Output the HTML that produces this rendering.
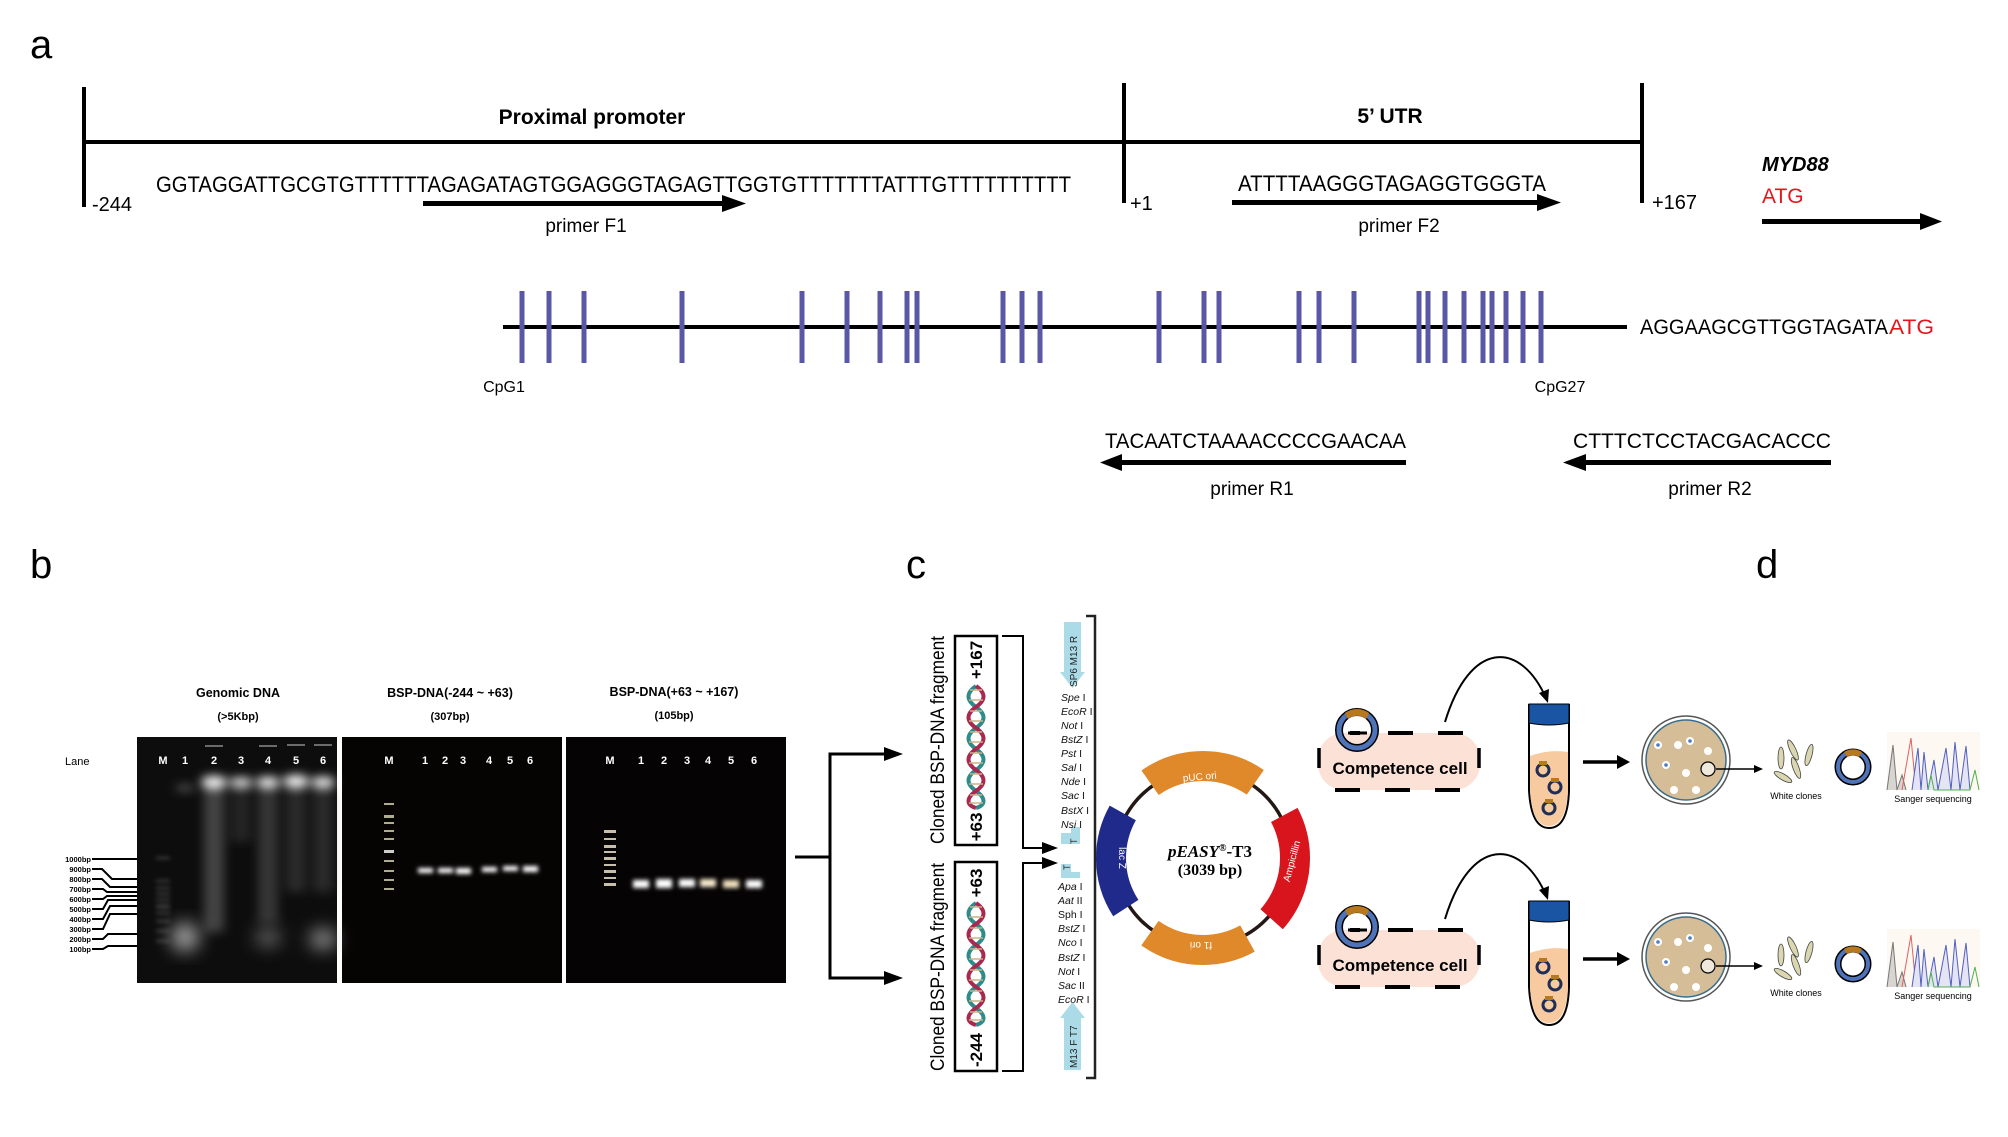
<!DOCTYPE html>
<html><head><meta charset="utf-8"><style>
html,body{margin:0;padding:0;background:#fff;}
svg{display:block;font-family:"Liberation Sans",Arial,sans-serif;}
</style></head><body>
<svg width="2008" height="1137" viewBox="0 0 2008 1137" xmlns="http://www.w3.org/2000/svg">
<defs>
<filter id="b2" x="-50%" y="-50%" width="200%" height="200%"><feGaussianBlur stdDeviation="2"/></filter>
<filter id="b5" x="-50%" y="-50%" width="200%" height="200%"><feGaussianBlur stdDeviation="5"/></filter>
<filter id="b8" x="-50%" y="-50%" width="200%" height="200%"><feGaussianBlur stdDeviation="9"/></filter>
</defs>

<!-- ============ Panel a ============ -->
<text x="30" y="58" font-size="40">a</text>
<g stroke="#000" stroke-width="4" fill="none">
<line x1="84" y1="87" x2="84" y2="207"/>
<line x1="84" y1="142" x2="1642" y2="142"/>
<line x1="1124" y1="83" x2="1124" y2="203"/>
<line x1="1642" y1="83" x2="1642" y2="203"/>
</g>
<text x="592" y="124" font-size="21" font-weight="bold" text-anchor="middle">Proximal promoter</text>
<text x="1390" y="123" font-size="21" font-weight="bold" text-anchor="middle">5’ UTR</text>
<text x="156" y="192" font-size="22" textLength="915" lengthAdjust="spacingAndGlyphs">GGTAGGATTGCGTGTTTTTTAGAGATAGTGGAGGGTAGAGTTGGTGTTTTTTTATTTGTTTTTTTTTT</text>
<text x="92" y="211" font-size="20">-244</text>
<text x="1130" y="210" font-size="20">+1</text>
<text x="1238" y="191" font-size="22" textLength="308" lengthAdjust="spacingAndGlyphs">ATTTTAAGGGTAGAGGTGGGTA</text>
<text x="1652" y="209" font-size="20">+167</text>
<text x="1762" y="171" font-size="20" font-weight="bold" font-style="italic">MYD88</text>
<text x="1762" y="203" font-size="21" fill="#e8141c">ATG</text>
<g fill="#000">
<rect x="423" y="201" width="300" height="5"/><path d="M722,195 L746,203.5 L722,212 Z"/>
<rect x="1232" y="200" width="306" height="5"/><path d="M1537,194 L1561,202.5 L1537,211 Z"/>
<rect x="1762" y="219" width="160" height="5"/><path d="M1920,213 L1942,221.5 L1920,230 Z"/>
<rect x="1120" y="460" width="286" height="5"/><path d="M1122,454 L1100,462.5 L1122,471 Z"/>
<rect x="1584" y="460" width="247" height="5"/><path d="M1586,454 L1563,462.5 L1586,471 Z"/>
</g>
<text x="586" y="232" font-size="19" text-anchor="middle">primer F1</text>
<text x="1399" y="232" font-size="19" text-anchor="middle">primer F2</text>
<!-- CpG -->
<line x1="503" y1="327" x2="1627" y2="327" stroke="#000" stroke-width="4"/>
<g stroke="#5a58a6" stroke-width="5">
<line x1="522" y1="291" x2="522" y2="363"/><line x1="549" y1="291" x2="549" y2="363"/><line x1="584" y1="291" x2="584" y2="363"/><line x1="682" y1="291" x2="682" y2="363"/><line x1="802" y1="291" x2="802" y2="363"/><line x1="847" y1="291" x2="847" y2="363"/><line x1="880" y1="291" x2="880" y2="363"/><line x1="907" y1="291" x2="907" y2="363"/><line x1="917" y1="291" x2="917" y2="363"/><line x1="1003" y1="291" x2="1003" y2="363"/><line x1="1022" y1="291" x2="1022" y2="363"/><line x1="1040" y1="291" x2="1040" y2="363"/><line x1="1159" y1="291" x2="1159" y2="363"/><line x1="1204" y1="291" x2="1204" y2="363"/><line x1="1219" y1="291" x2="1219" y2="363"/><line x1="1299" y1="291" x2="1299" y2="363"/><line x1="1319" y1="291" x2="1319" y2="363"/><line x1="1354" y1="291" x2="1354" y2="363"/><line x1="1419" y1="291" x2="1419" y2="363"/><line x1="1428" y1="291" x2="1428" y2="363"/><line x1="1445" y1="291" x2="1445" y2="363"/><line x1="1464" y1="291" x2="1464" y2="363"/><line x1="1483" y1="291" x2="1483" y2="363"/><line x1="1492" y1="291" x2="1492" y2="363"/><line x1="1506" y1="291" x2="1506" y2="363"/><line x1="1523" y1="291" x2="1523" y2="363"/><line x1="1541" y1="291" x2="1541" y2="363"/>
</g>
<text x="504" y="392" font-size="16" text-anchor="middle">CpG1</text>
<text x="1560" y="392" font-size="16" text-anchor="middle">CpG27</text>
<text x="1640" y="334" font-size="21" textLength="248" lengthAdjust="spacingAndGlyphs">AGGAAGCGTTGGTAGATA</text>
<text x="1889" y="334" font-size="21" fill="#e8141c" textLength="45" lengthAdjust="spacingAndGlyphs">ATG</text>
<text x="1105" y="448" font-size="21" textLength="301" lengthAdjust="spacingAndGlyphs">TACAATCTAAAACCCCGAACAA</text>
<text x="1573" y="448" font-size="21" textLength="258" lengthAdjust="spacingAndGlyphs">CTTTCTCCTACGACACCC</text>
<text x="1252" y="495" font-size="19" text-anchor="middle">primer R1</text>
<text x="1710" y="495" font-size="19" text-anchor="middle">primer R2</text>

<!-- ============ Panel b ============ -->
<text x="30" y="578" font-size="40">b</text>
<g font-weight="bold" font-size="12.5" text-anchor="middle">
<text x="238" y="697">Genomic DNA</text><text x="238" y="720" font-size="11">(&gt;5Kbp)</text>
<text x="450" y="697">BSP-DNA(-244 ~ +63)</text><text x="450" y="720" font-size="11">(307bp)</text>
<text x="674" y="696">BSP-DNA(+63 ~ +167)</text><text x="674" y="719" font-size="11">(105bp)</text>
</g>
<text x="65" y="765" font-size="11">Lane</text>
<rect x="137" y="737" width="200" height="246" fill="#0d0d0d"/>
<rect x="342" y="737" width="220" height="246" fill="#060303"/>
<rect x="566" y="737" width="220" height="246" fill="#050303"/>
<g fill="#fff" font-weight="bold" font-size="11" text-anchor="middle">
<text x="163" y="764">M</text><text x="185" y="764">1</text><text x="214" y="764">2</text><text x="241" y="764">3</text><text x="268" y="764">4</text><text x="296" y="764">5</text><text x="323" y="764">6</text>
<text x="389" y="764">M</text><text x="425" y="764">1</text><text x="445" y="764">2</text><text x="463" y="764">3</text><text x="489" y="764">4</text><text x="510" y="764">5</text><text x="530" y="764">6</text>
<text x="610" y="764">M</text><text x="641" y="764">1</text><text x="664" y="764">2</text><text x="687" y="764">3</text><text x="708" y="764">4</text><text x="731" y="764">5</text><text x="754" y="764">6</text>
</g>
<g filter="url(#b5)" fill="#fff">
<rect x="204" y="782" width="20" height="150" fill="#777" opacity="0.5"/>
<rect x="258" y="782" width="20" height="140" fill="#666" opacity="0.45"/>
<rect x="286" y="782" width="20" height="110" fill="#555" opacity="0.4"/>
<rect x="313" y="782" width="20" height="110" fill="#555" opacity="0.4"/>
<rect x="231" y="782" width="20" height="60" fill="#444" opacity="0.4"/>
<ellipse cx="214" cy="782" rx="13" ry="6"/><ellipse cx="241" cy="782" rx="12" ry="4"/><ellipse cx="268" cy="782" rx="12" ry="5"/><ellipse cx="296" cy="781" rx="13" ry="6"/><ellipse cx="323" cy="782" rx="12" ry="5"/>
<ellipse cx="185" cy="788" rx="10" ry="2" opacity="0.5"/>
</g>
<g filter="url(#b8)">
<ellipse cx="185" cy="937" rx="14" ry="14" fill="#ccc" opacity="0.8"/><ellipse cx="268" cy="937" rx="12" ry="9" fill="#999" opacity="0.7"/><ellipse cx="323" cy="939" rx="13" ry="9" fill="#ccc" opacity="0.8"/>
</g>
<g fill="#777" filter="url(#b2)" opacity="0.6">
<rect x="156" y="857" width="14" height="2"/><rect x="156" y="880" width="14" height="2"/><rect x="156" y="887" width="14" height="2"/><rect x="156" y="893" width="14" height="2"/><rect x="156" y="899" width="14" height="2"/><rect x="156" y="905" width="14" height="3"/><rect x="156" y="912" width="14" height="2"/><rect x="156" y="920" width="14" height="2"/><rect x="156" y="930" width="14" height="2"/><rect x="156" y="940" width="14" height="2"/>
</g>
<g fill="#aaa" opacity="0.6"><rect x="205" y="745" width="18" height="2"/><rect x="259" y="745" width="18" height="2"/><rect x="287" y="744" width="18" height="2"/><rect x="314" y="744" width="18" height="2"/></g>
<g fill="#d8d8b0" opacity="0.8"><rect x="384" y="803" width="10" height="2"/><rect x="384" y="815" width="10" height="3"/><rect x="384" y="822" width="10" height="2"/><rect x="384" y="830" width="10" height="2"/><rect x="384" y="838" width="10" height="2"/><rect x="384" y="850" width="10" height="3" fill="#fff"/><rect x="384" y="860" width="10" height="2"/><rect x="384" y="870" width="10" height="2"/><rect x="384" y="879" width="10" height="2"/><rect x="384" y="888" width="10" height="2"/></g>
<g filter="url(#b2)" fill="#fff"><rect x="418" y="868" width="15" height="5"/><rect x="438" y="868" width="15" height="5"/><rect x="456" y="868" width="15" height="6"/><rect x="482" y="867" width="15" height="5"/><rect x="503" y="866" width="15" height="5"/><rect x="523" y="866" width="15" height="6"/></g>
<g fill="#e8e0c8" opacity="0.85"><rect x="604" y="830" width="12" height="3"/><rect x="604" y="838" width="12" height="2"/><rect x="604" y="845" width="12" height="3"/><rect x="604" y="851" width="12" height="2"/><rect x="604" y="857" width="12" height="3"/><rect x="604" y="864" width="12" height="2"/><rect x="604" y="870" width="12" height="3"/><rect x="604" y="877" width="12" height="2"/><rect x="604" y="883" width="12" height="3"/></g>
<g filter="url(#b2)" fill="#fff"><rect x="633" y="880" width="16" height="8"/><rect x="656" y="879" width="16" height="9"/><rect x="679" y="879" width="16" height="8"/><rect x="700" y="879" width="16" height="8" fill="#f6ead0"/><rect x="723" y="880" width="16" height="8" fill="#f0e0c0"/><rect x="746" y="880" width="16" height="8"/></g>
<g font-size="7.5" font-weight="bold" text-anchor="end">
<text x="91" y="862">1000bp</text><text x="91" y="872">900bp</text><text x="91" y="882">800bp</text><text x="91" y="892">700bp</text><text x="91" y="902">600bp</text><text x="91" y="912">500bp</text><text x="91" y="922">400bp</text><text x="91" y="932">300bp</text><text x="91" y="942">200bp</text><text x="91" y="952">100bp</text>
</g>
<g stroke="#000" stroke-width="2" fill="none">
<polyline points="92,859 137,859"/><polyline points="92,869 102,869 112,879 137,879"/><polyline points="92,879 102,879 110,887 137,887"/><polyline points="92,889 103,889 107,892 137,892"/><polyline points="92,899 103,899 107,896 137,896"/><polyline points="92,909 103,909 108,900 137,900"/><polyline points="92,919 103,919 110,906 137,906"/><polyline points="92,929 103,929 110,914 137,914"/><polyline points="92,939 103,939 108,934 137,934"/><polyline points="92,949 103,949 108,946 137,946"/>
</g>
<g stroke="#000" stroke-width="3" fill="none"><line x1="795" y1="857" x2="830" y2="857"/><polyline points="888,754 830,754 830,978 888,978"/></g>
<path d="M884,747 L903,754 L884,761 Z M884,971 L903,978 L884,985 Z" fill="#000"/>

<!-- ============ Panel c ============ -->
<text x="906" y="578" font-size="40">c</text>
<text transform="translate(944,740) rotate(-90)" font-size="19" text-anchor="middle" textLength="208" lengthAdjust="spacingAndGlyphs">Cloned BSP-DNA fragment</text>
<text transform="translate(944,967) rotate(-90)" font-size="19" text-anchor="middle" textLength="208" lengthAdjust="spacingAndGlyphs">Cloned BSP-DNA fragment</text>
<rect x="955" y="636" width="42" height="209" fill="none" stroke="#000" stroke-width="2.5"/>
<rect x="955" y="862" width="42" height="209" fill="none" stroke="#000" stroke-width="2.5"/>
<g font-size="17" font-weight="bold" text-anchor="middle">
<text transform="translate(982,660) rotate(-90)">+167</text>
<text transform="translate(982,827) rotate(-90)">+63</text>
<text transform="translate(982,883) rotate(-90)">+63</text>
<text transform="translate(982,1050) rotate(-90)">-244</text>
</g>
<g fill="none" stroke-width="4">
<path d="M976,686 c-10,7 -10,14 0,21 c10,7 10,14 0,21 c-10,7 -10,14 0,21 c10,7 10,14 0,21 c-10,7 -10,14 0,21 c10,7 10,14 0,17" stroke="#2e8b8b"/>
<path d="M976,686 c10,7 10,14 0,21 c-10,7 -10,14 0,21 c10,7 10,14 0,21 c-10,7 -10,14 0,21 c10,7 10,14 0,21 c-10,7 -10,14 0,17" stroke="#a8284e"/>
<path d="M976,903 c-10,7 -10,14 0,21 c10,7 10,14 0,21 c-10,7 -10,14 0,21 c10,7 10,14 0,21 c-10,7 -10,14 0,21 c10,7 10,14 0,17" stroke="#2e8b8b"/>
<path d="M976,903 c10,7 10,14 0,21 c-10,7 -10,14 0,21 c10,7 10,14 0,21 c-10,7 -10,14 0,21 c10,7 10,14 0,21 c-10,7 -10,14 0,17" stroke="#a8284e"/>
</g>
<g stroke="#c9b38a" stroke-width="1.5">
<path d="M970,690h12M969,700h14M970,711h12M969,721h14M970,732h12M969,742h14M970,753h12M969,763h14M970,774h12M969,784h14M970,795h12M969,803h14"/>
<path d="M970,907h12M969,917h14M970,928h12M969,938h14M970,949h12M969,959h14M970,970h12M969,980h14M970,991h12M969,1001h14M970,1012h12M969,1020h14"/>
</g>
<g stroke="#000" stroke-width="2" fill="none"><polyline points="1002,636 1023,636 1023,848 1050,848"/><polyline points="1002,1071 1023,1071 1023,863 1050,863"/></g>
<path d="M1042,842 L1058,848 L1042,854 Z M1042,857 L1058,863 L1042,869 Z" fill="#000"/>
<g fill="#acdbe8">
<path d="M1061,833 h10 v-6 h9 v17 h-19 z"/>
<path d="M1061,864 v14 h19 v-6 h-9 v-8 z"/>
<path d="M1064,622 h17 v50 h4 l-12.5,16 l-12.5,-16 h4 z"/>
<path d="M1064,1070 h17 v-52 h4 l-12.5,-16 l-12.5,16 h4 z"/>
</g>
<g font-size="9" fill="#222">
<text transform="translate(1077,844) rotate(-90)">T</text>
<text transform="translate(1070,870) rotate(-90)">T</text>
<text transform="translate(1077,687) rotate(-90)" font-size="10">SP6 M13 R</text>
<text transform="translate(1077,1068) rotate(-90)" font-size="10">M13 F  T7</text>
</g>
<g font-size="10.5" fill="#111">
<text x="1061" y="701"><tspan font-style="italic">Spe</tspan> I</text>
<text x="1061" y="715"><tspan font-style="italic">EcoR</tspan> I</text>
<text x="1061" y="729"><tspan font-style="italic">Not</tspan> I</text>
<text x="1061" y="743"><tspan font-style="italic">BstZ</tspan> I</text>
<text x="1061" y="757"><tspan font-style="italic">Pst</tspan> I</text>
<text x="1061" y="771"><tspan font-style="italic">Sal</tspan> I</text>
<text x="1061" y="785"><tspan font-style="italic">Nde</tspan> I</text>
<text x="1061" y="799"><tspan font-style="italic">Sac</tspan> I</text>
<text x="1061" y="814"><tspan font-style="italic">BstX</tspan> I</text>
<text x="1061" y="828"><tspan font-style="italic">Nsi</tspan> I</text>
<text x="1058" y="890"><tspan font-style="italic">Apa</tspan> I</text>
<text x="1058" y="904"><tspan font-style="italic">Aat</tspan> II</text>
<text x="1058" y="918">Sph I</text>
<text x="1058" y="932"><tspan font-style="italic">BstZ</tspan> I</text>
<text x="1058" y="946"><tspan font-style="italic">Nco</tspan> I</text>
<text x="1058" y="961"><tspan font-style="italic">BstZ</tspan> I</text>
<text x="1058" y="975"><tspan font-style="italic">Not</tspan> I</text>
<text x="1058" y="989"><tspan font-style="italic">Sac</tspan> II</text>
<text x="1058" y="1003"><tspan font-style="italic">EcoR</tspan> I</text>
</g>
<polyline points="1086,616 1095,616 1095,1078 1086,1078" fill="none" stroke="#222" stroke-width="2.5"/>
<line x1="1095" y1="860" x2="1100" y2="860" stroke="#222" stroke-width="2.5"/>
<circle cx="1203" cy="858" r="88" fill="none" stroke="#231815" stroke-width="3.5"/>
<g fill="none" stroke-width="30">
<circle cx="1203" cy="858" r="92" stroke="#e0892a" stroke-dasharray="112 466" stroke-dashoffset="-377" />
<circle cx="1203" cy="858" r="92" stroke="#e0892a" stroke-dasharray="103 475" stroke-dashoffset="-98"/>
<circle cx="1203" cy="858" r="92" stroke="#1f2a8a" stroke-dasharray="100 478" stroke-dashoffset="-236"/>
<circle cx="1203" cy="858" r="92" stroke="#d8141c" stroke-dasharray="112 466" stroke-dashoffset="-533"/>
</g>
<g fill="#fff" font-size="10">
<text transform="translate(1200,780) rotate(-5)" text-anchor="middle">pUC ori</text>
<text transform="translate(1201,942) rotate(180)" text-anchor="middle">f1 ori</text>
<text transform="translate(1119,858) rotate(90)" text-anchor="middle">lac Z</text>
<text transform="translate(1295,862) rotate(-75)" text-anchor="middle">Ampicillin</text>
</g>
<text x="1210" y="857" font-family="'Liberation Serif',serif" font-size="17" font-weight="bold" font-style="italic" text-anchor="middle">pEASY<tspan font-size="10" dy="-6">®</tspan><tspan dy="6" font-style="normal">-T3</tspan></text>
<text x="1210" y="875" font-family="'Liberation Serif',serif" font-size="16" font-weight="bold" text-anchor="middle">(3039 bp)</text>

<!-- ============ Panel d ============ -->
<text x="1756" y="578" font-size="40">d</text>
<g id="row1">
<rect x="1318" y="733" width="162" height="57" rx="26" fill="#fbe1d6"/>
<g stroke="#000" stroke-width="4"><path d="M1388,733h25M1438,733h25M1350,733h10M1335,790h25M1385,790h25M1435,790h25" /><path d="M1319,748v20M1479,748v20" stroke-width="3.5"/></g>
<text x="1400" y="774" font-size="17" font-weight="bold" text-anchor="middle">Competence cell</text>
<circle cx="1357" cy="730" r="18" fill="none" stroke="#000" stroke-width="8"/>
<circle cx="1357" cy="730" r="18" fill="none" stroke="#4f73b8" stroke-width="5"/>
<path d="M1345,713 A20,20 0 0 1 1369,713 L1366,719 A14,14 0 0 0 1348,719 Z" fill="#b8781e"/>
<line x1="1348" y1="733" x2="1367" y2="733" stroke="#000" stroke-width="3"/>
<path d="M1445,722 C1470,640 1520,640 1546,698" fill="none" stroke="#000" stroke-width="2"/>
<path d="M1539,693 L1548,703 L1549,689 Z" fill="#000"/>
<path d="M1529,705 L1529,790 Q1531,828 1549,828 Q1568,828 1569,790 L1569,705 Z" fill="#fff" stroke="#000" stroke-width="2"/>
<path d="M1530,756 Q1549,749 1568,752 L1568,790 Q1566,826 1549,826 Q1532,826 1530,790 Z" fill="#f8caa0"/>
<path d="M1529,704 h40 v19 Q1549,727 1529,723 Z" fill="#1a55a3" stroke="#000" stroke-width="1"/>
<g fill="none" stroke="#1e2e55" stroke-width="3"><circle cx="1543" cy="770" r="6"/><circle cx="1555" cy="787" r="6"/><circle cx="1549" cy="808" r="6"/></g>
<g fill="#b8781e"><rect x="1539" y="761" width="8" height="4"/><rect x="1551" y="778" width="8" height="4"/><rect x="1545" y="799" width="8" height="4"/></g>
<path d="M1583,762 h36" stroke="#000" stroke-width="3.5"/><path d="M1617,755 L1630,762 L1617,769 Z" fill="#000"/>
<circle cx="1686" cy="760" r="44" fill="#fff" stroke="#555" stroke-width="1.5"/>
<circle cx="1686" cy="760" r="40" fill="#d5bd98" stroke="#3a6d8a" stroke-width="1.5"/>
<g fill="#fff"><circle cx="1678" cy="745" r="4"/><circle cx="1708" cy="751" r="4"/><circle cx="1686" cy="773" r="4"/><circle cx="1674" cy="790" r="4"/><circle cx="1696" cy="790" r="4"/><circle cx="1658" cy="745" r="4"/><circle cx="1690" cy="741" r="4"/><circle cx="1666" cy="765" r="4"/></g>
<g fill="#4a7ac8"><circle cx="1658" cy="745" r="1.8"/><circle cx="1690" cy="741" r="1.8"/><circle cx="1666" cy="765" r="1.8"/></g>
<circle cx="1708" cy="769" r="7" fill="#efe8dc" stroke="#000" stroke-width="1.2"/>
<path d="M1716,769 h40" stroke="#000" stroke-width="1.5"/><path d="M1754,765 L1763,769 L1754,773 Z" fill="#000"/>
<g fill="#d9d6b0" stroke="#444" stroke-width="0.8"><ellipse cx="1781" cy="758" rx="3" ry="11"/><ellipse cx="1793" cy="750" rx="3" ry="11" transform="rotate(-25 1793 750)"/><ellipse cx="1809" cy="755" rx="3" ry="11" transform="rotate(15 1809 755)"/><ellipse cx="1796" cy="768" rx="3" ry="11" transform="rotate(-20 1796 768)"/><ellipse cx="1783" cy="777" rx="3" ry="10" transform="rotate(-60 1783 777)"/></g>
<text x="1796" y="799" font-size="9" text-anchor="middle">White clones</text>
<circle cx="1853" cy="767" r="15" fill="none" stroke="#000" stroke-width="7"/>
<circle cx="1853" cy="767" r="15" fill="none" stroke="#4f73b8" stroke-width="4"/>
<path d="M1844,752 A17,17 0 0 1 1862,752 L1859,757 A12,12 0 0 0 1847,757 Z" fill="#b8781e"/>
<rect x="1887" y="732" width="93" height="58" fill="#fdf8f2"/>
<g fill="none" stroke-width="1"><path d="M1887,790 L1893,745 L1897,790 L1902,775 L1906,790" stroke="#777" fill="#d8d4cf"/><path d="M1902,790 L1911,738 L1916,790" stroke="#e06060"/><path d="M1912,790 L1918,748 L1921,790 L1924,752 L1928,790 L1934,760 L1938,790 L1946,748 L1951,790 L1955,742 L1960,790 L1966,746 L1970,790" stroke="#5060c0" fill="#e4e4f4"/><path d="M1928,790 L1931,775 L1934,790 L1970,790 L1975,770 L1979,790" stroke="#50b050"/></g>
<text x="1933" y="802" font-size="9" text-anchor="middle">Sanger sequencing</text>
</g>
<use href="#row1" transform="translate(0,197)"/>
</svg>
</body></html>
